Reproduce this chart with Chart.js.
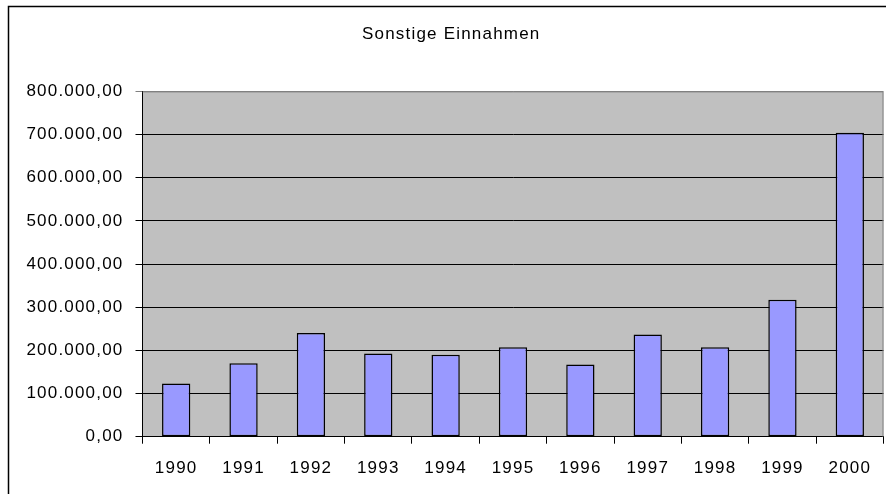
<!DOCTYPE html>
<html>
<head>
<meta charset="utf-8">
<script src="https://cdn.jsdelivr.net/npm/chart.js@4"></script>
<style>
html,body{margin:0;padding:0;background:#fff;}
#wrap{width:886px;height:494px;position:relative;}
</style>
</head>
<body>
<div id="wrap"><canvas id="c" width="886" height="494"></canvas></div>
<script>
const title = 'Sonstige Einnahmen';
const categories = ['1990','1991','1992','1993','1994','1995','1996','1997','1998','1999','2000'];
const values = [123000, 170000, 240000, 193000, 190000, 207000, 167000, 237000, 207000, 317000, 704000];
const yMin = 0, yMax = 800000, yStep = 100000;

function fmtDE(v){
  const parts = Math.round(v).toString().replace(/\B(?=(\d{3})+(?!\d))/g, '.');
  return parts + ',00';
}

const spacingPlugin = {
  id: 'spacing',
  beforeUpdate(chart){ chart.ctx.letterSpacing = '1.2px'; },
  beforeDraw(chart){ chart.ctx.letterSpacing = '1.2px'; }
};

const bgPlugin = {
  id: 'bg',
  beforeDraw(chart){
    const {ctx, chartArea:a} = chart;
    ctx.save();
    ctx.fillStyle = '#ffffff';
    ctx.fillRect(0,0,chart.width,chart.height);
    ctx.fillStyle = '#C0C0C0';
    ctx.fillRect(a.left, a.top, a.right - a.left, a.bottom - a.top);
    ctx.strokeStyle = '#000';
    ctx.lineWidth = 1.5;
    ctx.strokeRect(8.5, 6.5, 2000, 2000);
    ctx.restore();
  },
  afterDatasetsDraw(chart){
    const {ctx, chartArea:a} = chart;
    ctx.save();
    ctx.strokeStyle = '#808080';
    ctx.lineWidth = 1;
    ctx.beginPath();
    ctx.moveTo(a.left, a.top + 0.5);
    ctx.lineTo(a.right - 0.5, a.top + 0.5);
    ctx.lineTo(a.right - 0.5, a.bottom);
    ctx.stroke();
    ctx.restore();
  }
};

new Chart(document.getElementById('c'), {
  type: 'bar',
  data: {
    labels: categories,
    datasets: [{
      data: values,
      backgroundColor: '#9999FF',
      borderColor: '#000000',
      borderWidth: 1.5,
      borderSkipped: false,
      categoryPercentage: 1,
      barPercentage: 0.42
    }]
  },
  options: {
    responsive: false,
    animation: false,
    devicePixelRatio: 1,
    layout: { padding: { left: 19, right: 2.5, top: 0, bottom: 0 } },
    plugins: {
      legend: { display: false },
      tooltip: { enabled: false },
      title: {
        display: true,
        text: title,
        color: '#000',
        font: { family: 'Liberation Sans, Arial, sans-serif', size: 17, weight: 'normal' },
        padding: { top: 24, bottom: 47 }
      }
    },
    scales: {
      x: {
        grid: { display: true, drawOnChartArea: false, drawTicks: true, tickLength: 7, color: '#000', offset: true },
        border: { display: true, color: '#000', width: 1 },
        ticks: { color: '#000', padding: 14, font: { family: 'Liberation Sans, Arial, sans-serif', size: 17 }, maxRotation: 0, autoSkip: false },
        afterFit(scale){ scale.height = 57.3; }
      },
      y: {
        min: yMin, max: yMax,
        grid: { color: (c) => c.tick && c.tick.value === yMax ? '#808080' : '#000', tickLength: 7, drawTicks: true },
        border: { display: true, color: '#000', width: 1 },
        ticks: { stepSize: yStep, color: '#000', padding: 12, font: { family: 'Liberation Sans, Arial, sans-serif', size: 17 }, callback: (v) => fmtDE(v) },
        afterFit(scale){ scale.width = 123.5; }
      }
    }
  },
  plugins: [spacingPlugin, bgPlugin]
});
</script>
</body>
</html>
